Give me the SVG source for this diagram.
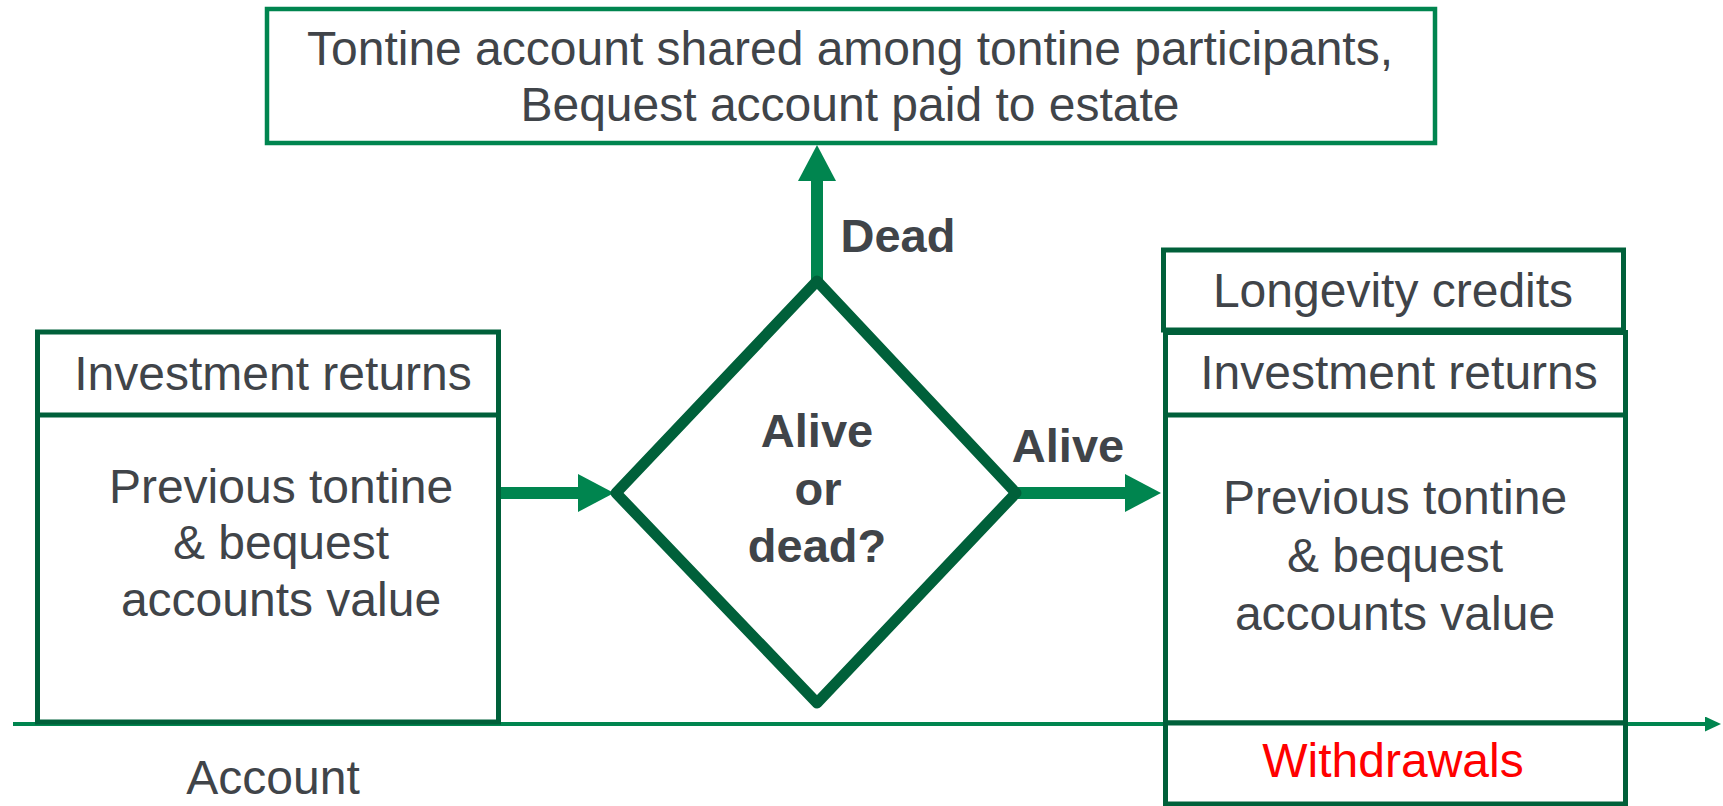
<svg xmlns="http://www.w3.org/2000/svg" width="1723" height="806" viewBox="0 0 1723 806">
<style>
  text { font-family: "Liberation Sans", Arial, sans-serif; font-size: 48px; fill: #404449; text-anchor: middle; }
  .b { font-weight: bold; font-size: 47px; }
  .red { fill: #FF0000; }
  .box { fill: #ffffff; stroke: #00603a; stroke-width: 5; }
  .div { stroke: #00603a; stroke-width: 5; }
  .topbox { fill: #ffffff; stroke: #00854f; stroke-width: 4.5; }
  .arrow { stroke: #00854f; stroke-width: 12; fill: none; }
  .axis { stroke: #00854f; stroke-width: 4; fill: none; }
</style>
<defs>
  <marker id="big" viewBox="0 0 36 38" refX="4" refY="19" markerWidth="36" markerHeight="38" markerUnits="userSpaceOnUse" orient="auto">
    <path d="M0,0 L36,19 L0,38 z" fill="#00854f"/>
  </marker>
  <marker id="small" viewBox="0 0 16 15" refX="3" refY="7.5" markerWidth="16" markerHeight="15" markerUnits="userSpaceOnUse" orient="auto">
    <path d="M0,0 L16,7.5 L0,15 z" fill="#00854f"/>
  </marker>
</defs>
<rect width="1723" height="806" fill="#ffffff"/>

<g id="axis">
  <line class="axis" x1="13" y1="724" x2="1708" y2="724" marker-end="url(#small)"/>
</g>

<g id="connectors">
  <line class="arrow" x1="498" y1="493" x2="582" y2="493" marker-end="url(#big)"/>
  <line class="arrow" x1="1016" y1="493" x2="1129" y2="493" marker-end="url(#big)"/>
  <line class="arrow" x1="817" y1="282" x2="817" y2="177" marker-end="url(#big)"/>
  <text class="b" x="1068" y="462">Alive</text>
  <text class="b" x="898" y="252">Dead</text>
</g>

<g id="top-box">
  <rect class="topbox" x="267" y="9" width="1168" height="134"/>
  <text x="850" y="65">Tontine account shared among tontine participants,</text>
  <text x="850" y="121">Bequest account paid to estate</text>
</g>

<g id="left-account">
  <rect class="box" x="37.5" y="332" width="461" height="390"/>
  <line class="div" x1="37.5" y1="415" x2="498.5" y2="415"/>
  <text x="273" y="390">Investment returns</text>
  <text x="281" y="503">Previous tontine</text>
  <text x="281" y="559">&amp; bequest</text>
  <text x="281" y="616">accounts value</text>
</g>

<g id="decision">
  <polygon points="817,281 1016,493 817,703 616,493" fill="#ffffff" stroke="#00603a" stroke-width="11" stroke-linejoin="round"/>
  <text class="b" x="817" y="447">Alive</text>
  <text class="b" x="818" y="505">or</text>
  <text class="b" x="817" y="562">dead?</text>
</g>

<g id="longevity-credits">
  <rect class="box" x="1163.5" y="250" width="460" height="80"/>
  <text x="1393" y="307">Longevity credits</text>
</g>

<g id="right-account">
  <rect class="box" x="1165.5" y="332.5" width="460" height="390.5"/>
  <line class="div" x1="1165.5" y1="415" x2="1625.5" y2="415"/>
  <text x="1399" y="389">Investment returns</text>
  <text x="1395" y="514">Previous tontine</text>
  <text x="1395" y="572">&amp; bequest</text>
  <text x="1395" y="630">accounts value</text>
</g>

<g id="withdrawals">
  <rect class="box" x="1165.5" y="723" width="460" height="81"/>
  <text class="red" x="1393" y="777">Withdrawals</text>
</g>

<g id="account-label">
  <text x="273" y="794">Account</text>
</g>
</svg>
